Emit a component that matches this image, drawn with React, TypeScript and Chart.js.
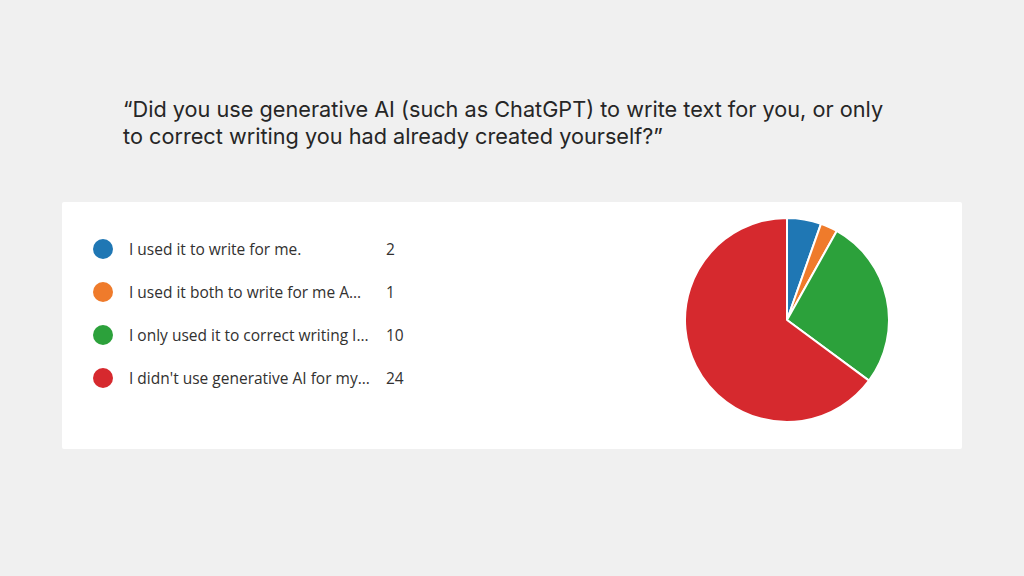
import React, { useEffect, useRef } from 'react';
import { Chart, registerables } from 'chart.js';

Chart.register(...registerables);

// datos de la encuesta
const categories = [
  'I used it to write for me.',
  'I used it both to write for me A...',
  'I only used it to correct writing I...',
  "I didn't use generative AI for my...",
];
const counts = [2, 1, 10, 24];
const colors = ['#1f77b4', '#ef7b2b', '#2ca13b', '#d6292e'];

const titleLines = [
  '\u201CDid you use generative AI (such as ChatGPT) to write text for you, or only',
  'to correct writing you had already created yourself?\u201D',
];

const FONT = '"Open Sans", "Noto Sans", sans-serif';
const TITLE_FONT = 'Inter, "Open Sans", sans-serif';

const App: React.FC = () => {
  const chartRef = useRef<HTMLCanvasElement | null>(null);
  const chartInstanceRef = useRef<Chart | null>(null);

  useEffect(() => {
    if (!chartRef.current) return;
    if (chartInstanceRef.current) chartInstanceRef.current.destroy();

    chartInstanceRef.current = new Chart(chartRef.current, {
      type: 'pie',
      data: {
        labels: categories,
        datasets: [
          {
            data: counts,
            backgroundColor: colors,
            borderColor: '#ffffff',
            borderWidth: 2,
            hoverOffset: 0,
          },
        ],
      },
      options: {
        responsive: false,
        animation: false,
        events: [],
        layout: { padding: 0 },
        plugins: {
          legend: { display: false },
          tooltip: { enabled: false },
        },
      },
    });

    return () => {
      if (chartInstanceRef.current) {
        chartInstanceRef.current.destroy();
        chartInstanceRef.current = null;
      }
    };
  }, []);

  return (
    <div
      style={{
        position: 'fixed',
        left: 0,
        top: 0,
        width: 1024,
        height: 576,
        background: '#f0f0f0',
        fontFamily: FONT,
        color: '#262626',
      }}
    >
      <div
        style={{
          position: 'absolute',
          left: 123,
          top: 96,
          fontFamily: TITLE_FONT,
          fontSize: 21.7,
          lineHeight: '27px',
          whiteSpace: 'nowrap',
        }}
      >
        {titleLines.map((t, i) => (
          <div key={i}>{t}</div>
        ))}
      </div>

      <div
        style={{
          position: 'absolute',
          left: 62,
          top: 202,
          width: 900,
          height: 247,
          background: '#ffffff',
          borderRadius: 2,
        }}
      >
        {categories.map((c, i) => (
          <div
            key={i}
            style={{
              position: 'absolute',
              left: 31,
              top: 37 + i * 43,
              height: 20,
              display: 'flex',
              alignItems: 'center',
              fontSize: 15.5,
              whiteSpace: 'nowrap',
              color: '#323130',
            }}
          >
            <span
              style={{
                width: 20,
                height: 20,
                borderRadius: '50%',
                background: colors[i],
                display: 'inline-block',
              }}
            />
            <span style={{ position: 'absolute', left: 36 }}>{c}</span>
            <span style={{ position: 'absolute', left: 293 }}>{counts[i]}</span>
          </div>
        ))}

        <canvas
          ref={chartRef}
          width={206}
          height={206}
          style={{ position: 'absolute', left: 622, top: 15, width: 206, height: 206 }}
        />
      </div>
    </div>
  );
};

export default App;
